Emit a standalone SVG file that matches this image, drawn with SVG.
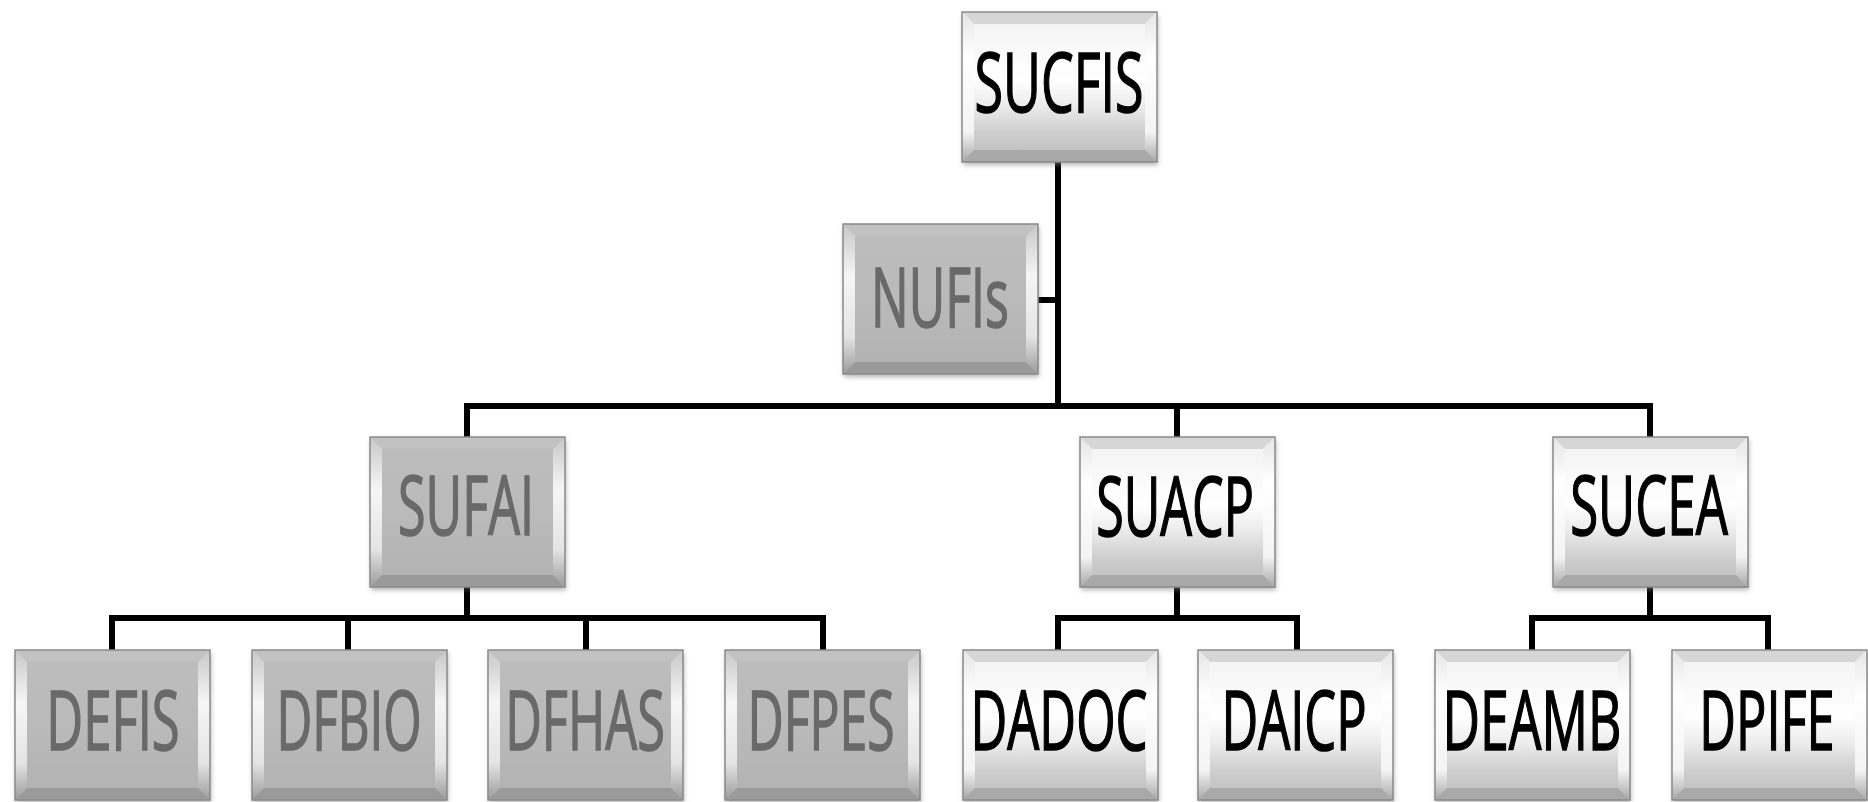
<svg xmlns="http://www.w3.org/2000/svg" width="1868" height="802" viewBox="0 0 1868 802">
  <defs>
    <style>
      .label { font-family: "Open Sans", "Liberation Sans", sans-serif; font-size: 82px; text-anchor: middle; stroke-width: 1.6px; }
      .dark { fill: #000; stroke: #000; }
      .muted { fill: #696969; stroke: #696969; }
      .wire { stroke: #000; stroke-width: 6; fill: none; stroke-linecap: square; stroke-linejoin: miter; }
      .edge { stroke: #8a8a8a; stroke-width: 1.5; }
    </style>
    <!-- white button face -->
    <linearGradient id="faceLight" x1="0" y1="0" x2="0" y2="1">
      <stop offset="0" stop-color="#f2f2f2"/>
      <stop offset="0.45" stop-color="#ffffff"/>
      <stop offset="0.62" stop-color="#ececec"/>
      <stop offset="0.8" stop-color="#cfcfcf"/>
      <stop offset="1" stop-color="#bcbcbc"/>
    </linearGradient>
    <!-- grey button face -->
    <linearGradient id="faceGrey" x1="0" y1="0" x2="0" y2="1">
      <stop offset="0" stop-color="#bdbdbd"/>
      <stop offset="0.5" stop-color="#bababa"/>
      <stop offset="1" stop-color="#b2b2b2"/>
    </linearGradient>
    <linearGradient id="sideHi" x1="0" y1="0" x2="0" y2="1">
      <stop offset="0" stop-color="#e6e6e6"/>
      <stop offset="0.3" stop-color="#ffffff"/>
      <stop offset="0.8" stop-color="#f4f4f4"/>
      <stop offset="1" stop-color="#a8a8a8"/>
    </linearGradient>
    <linearGradient id="sideHiGrey" x1="0" y1="0" x2="0" y2="1">
      <stop offset="0" stop-color="#c8c8c8"/>
      <stop offset="0.35" stop-color="#f6f6f6"/>
      <stop offset="0.75" stop-color="#e4e4e4"/>
      <stop offset="1" stop-color="#9c9c9c"/>
    </linearGradient>
    <filter id="shadow" x="-10%" y="-10%" width="120%" height="130%">
      <feGaussianBlur stdDeviation="2.5"/>
    </filter>

    <!-- light bevelled button, 195 x 150 -->
    <g id="btnLight">
      <rect x="1" y="3" width="195" height="150" fill="#7a7a7a" opacity="0.55" filter="url(#shadow)"/>
      <rect x="0" y="0" width="195" height="150" fill="url(#faceLight)"/>
      <polygon points="0,0 195,0 183,12 12,12" fill="#d6d6d6"/>
      <polygon points="0,0 12,12 12,138 0,150" fill="url(#sideHi)"/>
      <polygon points="195,0 195,150 183,138 183,12" fill="url(#sideHi)"/>
      <polygon points="0,150 12,138 183,138 195,150" fill="#a9a9a9"/>
      <rect x="0" y="0" width="195" height="150" fill="none" class="edge"/>
    </g>
    <!-- grey bevelled button, 195 x 150 -->
    <g id="btnGrey">
      <rect x="1" y="3" width="195" height="150" fill="#6a6a6a" opacity="0.5" filter="url(#shadow)"/>
      <rect x="0" y="0" width="195" height="150" fill="url(#faceGrey)"/>
      <polygon points="0,0 195,0 183,12 12,12" fill="#c2c2c2"/>
      <polygon points="0,0 12,12 12,138 0,150" fill="url(#sideHiGrey)"/>
      <polygon points="195,0 195,150 183,138 183,12" fill="url(#sideHiGrey)"/>
      <polygon points="0,150 12,138 183,138 195,150" fill="#9a9a9a"/>
      <rect x="0" y="0" width="195" height="150" fill="none" class="edge"/>
    </g>
  </defs>

  <rect width="1868" height="802" fill="#ffffff"/>

  <!-- connectors -->
  <g id="connectors" class="wire">
    <path d="M1058,163 V406"/>
    <path d="M1037,300 H1058"/>
    <path d="M467,437 V406 H1650 V437"/>
    <path d="M1177,406 V437"/>
    <!-- SUFAI branch -->
    <path d="M467,587 V618"/>
    <path d="M112,650 V618 H823 V650"/>
    <path d="M348,618 V650"/>
    <path d="M586,618 V650"/>
    <!-- SUACP branch -->
    <path d="M1177,587 V618"/>
    <path d="M1058,650 V618 H1297 V650"/>
    <!-- SUCEA branch -->
    <path d="M1650,587 V618"/>
    <path d="M1532,650 V618 H1768 V650"/>
  </g>

  <!-- labels are drawn narrowed to 66% width -->
  <g id="node-sucfis" transform="translate(962,12)">
    <use href="#btnLight"/>
    <text class="label dark" transform="translate(97,100) scale(0.66,1)" textLength="256" lengthAdjust="spacingAndGlyphs">SUCFIS</text>
  </g>
  <g id="node-nufis" transform="translate(843,224)">
    <use href="#btnGrey"/>
    <text class="label muted" transform="translate(97,103) scale(0.66,1)" textLength="209" lengthAdjust="spacingAndGlyphs">NUFIs</text>
  </g>

  <g id="node-sufai" transform="translate(370,437)">
    <use href="#btnGrey"/>
    <text class="label muted" transform="translate(96,98) scale(0.66,1)" textLength="206" lengthAdjust="spacingAndGlyphs">SUFAI</text>
  </g>
  <g id="node-suacp" transform="translate(1080,437)">
    <use href="#btnLight"/>
    <text class="label dark" transform="translate(95,99) scale(0.66,1)" textLength="239" lengthAdjust="spacingAndGlyphs">SUACP</text>
  </g>
  <g id="node-sucea" transform="translate(1553,437)">
    <use href="#btnLight"/>
    <text class="label dark" transform="translate(96,98) scale(0.66,1)" textLength="239" lengthAdjust="spacingAndGlyphs">SUCEA</text>
  </g>

  <g id="node-defis" transform="translate(15,650)">
    <use href="#btnGrey"/>
    <text class="label muted" transform="translate(98,100) scale(0.66,1)" textLength="202" lengthAdjust="spacingAndGlyphs">DEFIS</text>
  </g>
  <g id="node-dfbio" transform="translate(252,650)">
    <use href="#btnGrey"/>
    <text class="label muted" transform="translate(97,100) scale(0.66,1)" textLength="220" lengthAdjust="spacingAndGlyphs">DFBIO</text>
  </g>
  <g id="node-dfhas" transform="translate(488,650)">
    <use href="#btnGrey"/>
    <text class="label muted" transform="translate(97,100) scale(0.66,1)" textLength="242" lengthAdjust="spacingAndGlyphs">DFHAS</text>
  </g>
  <g id="node-dfpes" transform="translate(725,650)">
    <use href="#btnGrey"/>
    <text class="label muted" transform="translate(96,100) scale(0.66,1)" textLength="223" lengthAdjust="spacingAndGlyphs">DFPES</text>
  </g>
  <g id="node-dadoc" transform="translate(963,650)">
    <use href="#btnLight"/>
    <text class="label dark" transform="translate(96,100) scale(0.66,1)" textLength="268" lengthAdjust="spacingAndGlyphs">DADOC</text>
  </g>
  <g id="node-daicp" transform="translate(1198,650)">
    <use href="#btnLight"/>
    <text class="label dark" transform="translate(96,100) scale(0.66,1)" textLength="220" lengthAdjust="spacingAndGlyphs">DAICP</text>
  </g>
  <g id="node-deamb" transform="translate(1435,650)">
    <use href="#btnLight"/>
    <text class="label dark" transform="translate(97,100) scale(0.66,1)" textLength="271" lengthAdjust="spacingAndGlyphs">DEAMB</text>
  </g>
  <g id="node-dpife" transform="translate(1672,650)">
    <use href="#btnLight"/>
    <text class="label dark" transform="translate(95,100) scale(0.66,1)" textLength="205" lengthAdjust="spacingAndGlyphs">DPIFE</text>
  </g>
</svg>
